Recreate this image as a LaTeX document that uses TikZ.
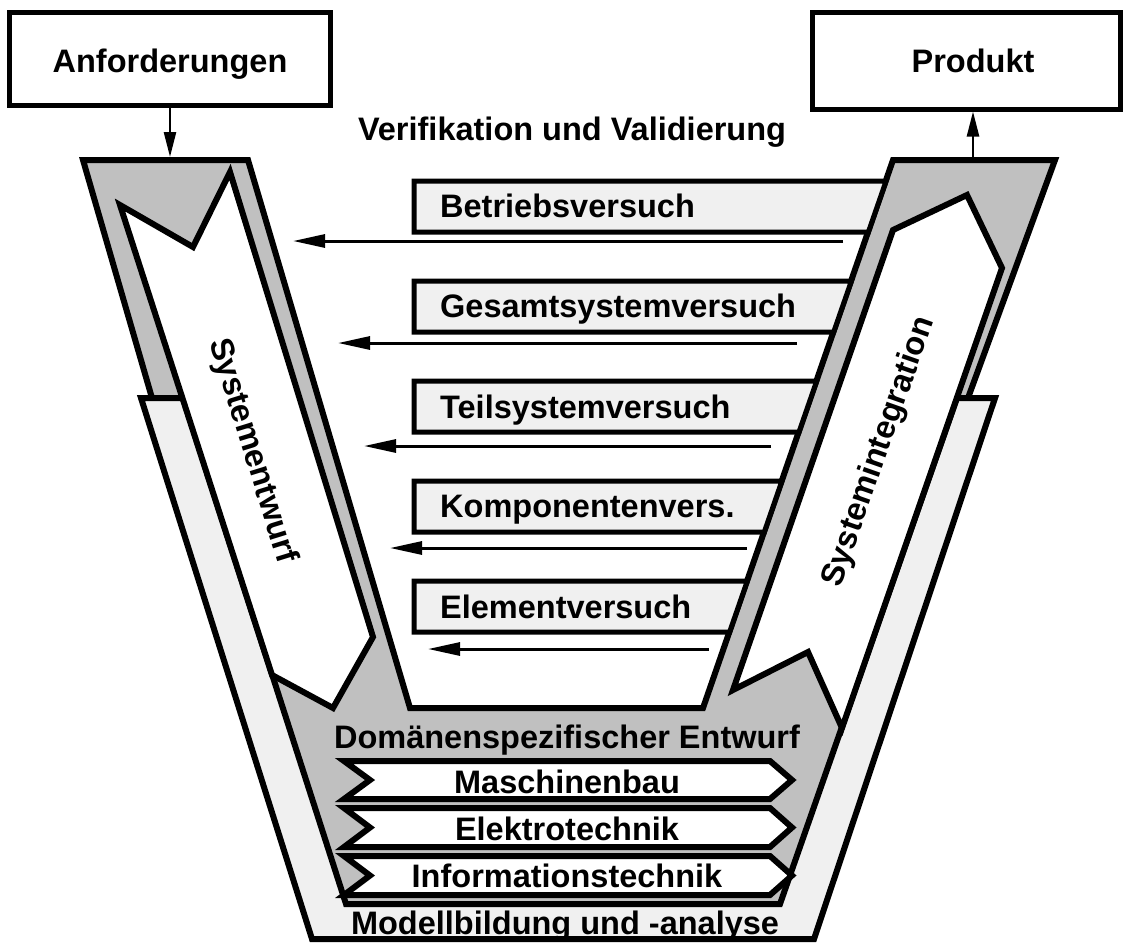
\documentclass[tikz,border=0pt]{standalone}
\usepackage{fontspec}
\setmainfont{Liberation Sans}
\usetikzlibrary{arrows.meta}
\definecolor{midgray}{RGB}{192,192,192}
\definecolor{paleg}{RGB}{240,240,240}
\begin{document}
\begin{tikzpicture}[x=1pt,y=-1pt,
  outline/.style={line width=6pt, line join=miter, draw=black},
  boxline/.style={line width=5pt, line join=miter, draw=black},
  topbox/.style={boxline, rectangle, inner sep=0pt, fill=white},
  lbl/.style={font=\fontsize{32.5}{38}\selectfont\bfseries, inner sep=0pt, anchor=base},
  lbll/.style={lbl, anchor=base west},
  rot/.style={font=\fontsize{32.5}{38}\selectfont\bfseries, inner sep=0pt, anchor=center},
  testarrow/.style={line width=3pt, -{Triangle[length=32pt,width=13pt]}},
  toparrow/.style={line width=2.5pt, -{Triangle[length=25pt,width=12pt]}}
]
\useasboundingbox (0,0) rectangle (1127,943);

% gray V (arms and domain region)
\fill[midgray] (83,160) -- (248,160) -- (410,708) -- (703,708) -- (893,160) -- (1055,160)
  -- (968,398) -- (780,904) -- (346,904) -- (152,398) -- cycle;
\draw[outline] (152,398) -- (83,160) -- (248,160) -- (410,708) -- (703,708)
  -- (893,160) -- (1055,160) -- (968,398);

% light band: Modellbildung und -analyse
\draw[outline, fill=paleg] (141,398) -- (183,398) -- (346,904) -- (780,904) -- (957,398)
  -- (995,398) -- (814,939) -- (312,939) -- cycle;

% white arrows
\draw[outline, fill=white] (120,205) -- (193,247) -- (230,172) -- (373,637) -- (333,708)
  -- (272,675) -- cycle;
\draw[outline, fill=white] (893,230) -- (967,195) -- (1002,268) -- (842,728) -- (808,652)
  -- (733,690) -- cycle;
\node[rot, rotate=-72.8] (sysent) at (252,451) {Systementwurf};
\node[rot, rotate=70.7] (sysint) at (879,452) {Systemintegration};

% test boxes
\draw[boxline, fill=paleg] (414,181) -- (886.1,181) -- (868.4,232) -- (414,232) -- cycle;
\draw[boxline, fill=paleg] (414,281) -- (851.4,281) -- (833.7,332) -- (414,332) -- cycle;
\draw[boxline, fill=paleg] (414,381) -- (816.7,381) -- (799.0,432) -- (414,432) -- cycle;
\draw[boxline, fill=paleg] (414,481) -- (781.9,481) -- (764.3,532) -- (414,532) -- cycle;
\draw[boxline, fill=paleg] (414,581) -- (747.3,581) -- (729.6,632) -- (414,632) -- cycle;
\node[lbll] (t1) at (440,217) {Betriebsversuch};
\node[lbll] (t2) at (440,317) {Gesamtsystemversuch};
\node[lbll] (t3) at (440,418) {Teilsystemversuch};
\node[lbll] (t4) at (440,517) {Komponentenvers.};
\node[lbll] (t5) at (440,618) {Elementversuch};

% test arrows
\coordinate (a1s) at (843,241); \coordinate (a1e) at (293,241);
\coordinate (a2s) at (797,343); \coordinate (a2e) at (338,343);
\coordinate (a3s) at (771,446); \coordinate (a3e) at (364,446);
\coordinate (a4s) at (747,548); \coordinate (a4e) at (390,548);
\coordinate (a5s) at (709,649); \coordinate (a5e) at (428,649);
\draw[testarrow] (a1s) -- (a1e);
\draw[testarrow] (a2s) -- (a2e);
\draw[testarrow] (a3s) -- (a3e);
\draw[testarrow] (a4s) -- (a4e);
\draw[testarrow] (a5s) -- (a5e);

% domain bars
\draw[outline, fill=white] (344,761) -- (770,761) -- (792,780) -- (770,799) -- (344,799) -- (370,780) -- cycle;
\draw[outline, fill=white] (344,808) -- (770,808) -- (792,827.5) -- (770,847) -- (344,847) -- (370,827.5) -- cycle;
\draw[outline, fill=white] (344,856) -- (770,856) -- (792,875.5) -- (770,895) -- (344,895) -- (370,875.5) -- cycle;
\node[lbl] (dom) at (567,748) {Domänenspezifischer Entwurf};
\node[lbl] (mb) at (567,793) {Maschinenbau};
\node[lbl] (et) at (567,840) {Elektrotechnik};
\node[lbl] (it) at (567,887) {Informationstechnik};
\node[lbl] (mod) at (565,934) {Modellbildung und -analyse};

% top boxes
\node[topbox, minimum width=321pt, minimum height=93pt] (anf) at (170,59) {};
\node[lbl] (anft) at (170,72) {Anforderungen};
\node[topbox, minimum width=308pt, minimum height=97pt] (prod) at (966,60.5) {};
\node[lbl] (prodt) at (973,72) {Produkt};
\node[lbl] (vv) at (572,140) {Verifikation und Validierung};

\coordinate (inA) at (170,157);
\coordinate (outP) at (973,157);
\draw[toparrow] (anf.south) -- (inA);
\draw[toparrow] (outP) -- (outP |- prod.south);
\end{tikzpicture}
\end{document}
